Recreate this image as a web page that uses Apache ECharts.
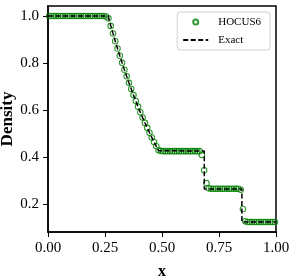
<!DOCTYPE html>
<html>
<head>
<meta charset="utf-8">
<script src="https://cdn.jsdelivr.net/npm/echarts@6/dist/echarts.min.js"></script>
<style>
html,body{margin:0;padding:0;background:#fff;}
#chart{width:291px;height:277px;}
</style>
</head>
<body>
<div id="chart"></div>
<script>
// HOCUS6 cell-centre positions and densities
const hocusX = [0.005,0.015,0.025,0.035,0.045,0.055,0.065,0.075,0.085,0.095,
0.105,0.115,0.125,0.135,0.145,0.155,0.165,0.175,0.185,0.195,
0.205,0.215,0.225,0.235,0.245,0.255,0.265,0.275,0.285,0.295,
0.305,0.315,0.325,0.335,0.345,0.355,0.365,0.375,0.385,0.395,
0.405,0.415,0.425,0.435,0.445,0.455,0.465,0.475,0.485,0.495,
0.505,0.515,0.525,0.535,0.545,0.555,0.565,0.575,0.585,0.595,
0.605,0.615,0.625,0.635,0.645,0.655,0.665,0.675,0.685,0.695,
0.705,0.715,0.725,0.735,0.745,0.755,0.765,0.775,0.785,0.795,
0.805,0.815,0.825,0.835,0.845,0.855,0.865,0.875,0.885,0.895,
0.905,0.915,0.925,0.935,0.945,0.955,0.965,0.975,0.985,0.995];
const hocusY = [1.0,1.0,1.0,1.0,1.0,1.0,1.0,1.0,1.0,1.0,
1.0,1.0,1.0,1.0,1.0,1.0,1.0,1.0,1.0,1.0,
1.0,1.0,1.0,1.0,1.0,0.998,0.990,0.958,0.926,0.893,
0.862,0.831,0.801,0.772,0.744,0.716,0.690,0.664,0.639,0.615,
0.591,0.569,0.546,0.525,0.504,0.484,0.465,0.447,0.430,0.427,
0.426,0.426,0.426,0.426,0.426,0.426,0.426,0.426,0.426,0.426,
0.426,0.426,0.426,0.426,0.426,0.426,0.426,0.410,0.345,0.290,
0.268,0.266,0.266,0.266,0.266,0.266,0.266,0.266,0.266,0.266,
0.266,0.266,0.266,0.266,0.262,0.180,0.128,0.125,0.125,0.125,
0.125,0.125,0.125,0.125,0.125,0.125,0.125,0.125,0.125,0.125];

// Exact solution line
const exactX = [0,0.2634,0.265,0.275,0.285,0.295,0.305,0.315,0.325,0.335,0.345,
0.355,0.365,0.375,0.385,0.395,0.405,0.415,0.425,0.435,0.445,0.455,0.465,0.475,0.485,
0.486,0.6855,0.6855,0.8504,0.8504,1.0];
const exactY = [1.0,1.0,0.9942,0.9597,0.9261,0.8934,0.8617,0.8309,0.8010,0.7719,0.7437,
0.7163,0.6898,0.6640,0.6390,0.6148,0.5913,0.5685,0.5465,0.5251,0.5044,0.4843,0.4649,0.4462,0.4280,
0.4263,0.4263,0.2656,0.2656,0.125,0.125];

const xTicks = [0, 0.25, 0.5, 0.75, 1.0];
const yTicks = [0.2, 0.4, 0.6, 0.8, 1.0];
const seriesNames = ['HOCUS6', 'Exact'];

const FONT = 'Liberation Serif';
const GREEN = '#008000';
const chart = echarts.init(document.getElementById('chart'), null, {renderer: 'canvas'});
chart.setOption({
  animation: false,
  backgroundColor: '#fff',
  grid: {left: 48, right: 15, top: 6, bottom: 45, containLabel: false, outerBoundsMode: 'none',
         show: true, borderColor: '#000', borderWidth: 1.5, backgroundColor: 'transparent'},
  legend: {
    orient: 'vertical', right: 21, top: 12,
    itemWidth: 25, itemHeight: 5, itemGap: 6,
    padding: [4, 9, 4, 5],
    backgroundColor: 'rgba(255,255,255,0.8)', borderColor: '#d0d0d0', borderWidth: 1, borderRadius: 3,
    textStyle: {fontFamily: FONT, fontSize: 11, color: '#000', lineHeight: 12, padding: [0, 0, 0, 5]},
    data: [
      {name: seriesNames[0], icon: 'circle'},
      {name: seriesNames[1], itemStyle: {opacity: 0}}
    ]
  },
  xAxis: {
    type: 'value', min: 0, max: 1, interval: 0.25,
    name: 'x', nameLocation: 'middle', nameGap: 32, nameMoveOverlap: false,
    nameTextStyle: {fontFamily: FONT, fontSize: 16, fontWeight: 'bold', color: '#000'},
    axisLine: {show: true, lineStyle: {color: '#000', width: 1.5}},
    axisTick: {show: true, length: 5, lineStyle: {color: '#000', width: 1}},
    axisLabel: {fontFamily: FONT, fontSize: 15, color: '#000', margin: 9, formatter: v => v.toFixed(2), customValues: xTicks},
    splitLine: {show: false}
  },
  yAxis: {
    type: 'value', min: 0.0825, max: 1.0425,
    name: 'Density', nameLocation: 'middle', nameGap: 32, nameRotate: 90, nameMoveOverlap: false,
    nameTextStyle: {fontFamily: FONT, fontSize: 17, fontWeight: 'bold', color: '#000'},
    axisLine: {show: true, lineStyle: {color: '#000', width: 1.5}},
    axisTick: {show: true, length: 5, lineStyle: {color: '#000', width: 1}, customValues: yTicks},
    axisLabel: {fontFamily: FONT, fontSize: 15, color: '#000', margin: 9, formatter: v => v.toFixed(1), customValues: yTicks},
    splitLine: {show: false}
  },
  series: [
    {
      name: seriesNames[0], type: 'scatter', symbol: 'circle', symbolSize: 5.5,
      itemStyle: {color: 'rgba(255,255,255,0)', borderColor: GREEN, borderWidth: 1.1},
      data: hocusX.map((x, i) => [x, hocusY[i]]), z: 2
    },
    {
      name: seriesNames[1], type: 'line', symbol: 'none', showSymbol: false,
      lineStyle: {color: '#000', width: 1.5, type: [5, 2.5]},
      itemStyle: {color: '#000'},
      data: exactX.map((x, i) => [x, exactY[i]]), z: 3
    }
  ]
});
</script>
</body>
</html>
